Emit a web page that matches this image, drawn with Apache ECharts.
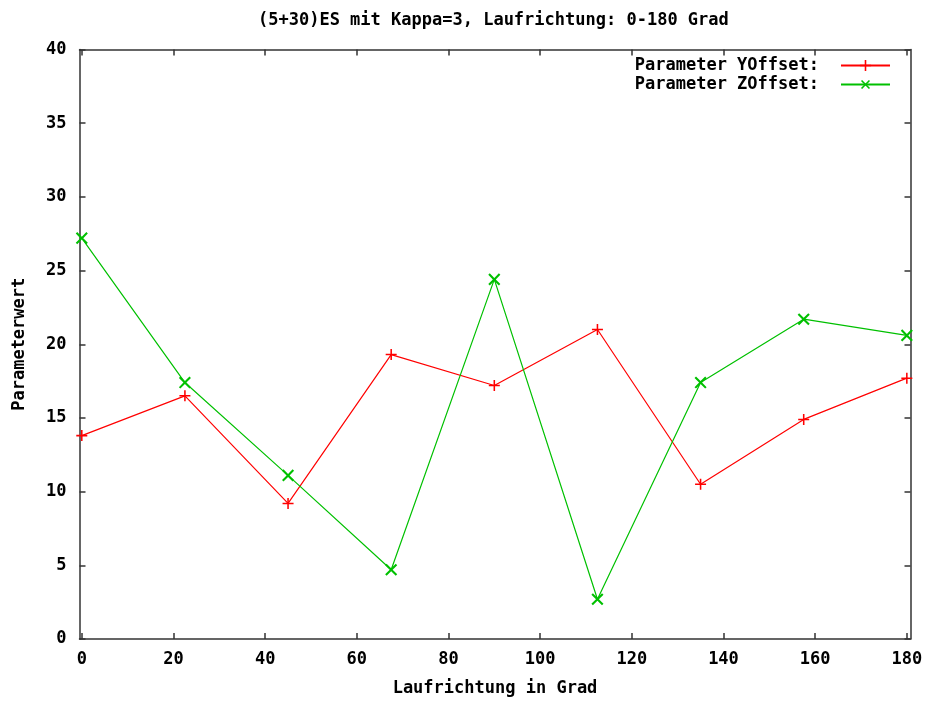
<!DOCTYPE html>
<html>
<head>
<meta charset="utf-8">
<script src="https://cdn.jsdelivr.net/npm/echarts@6/dist/echarts.min.js"></script>
<style>
  html, body { margin: 0; padding: 0; background: #fff; }
  #chart { width: 927px; height: 702px; }
</style>
</head>
<body>
<div id="chart"></div>
<script>
// Laufrichtung (Grad) and measured parameter values
const angles = [0, 22.5, 45, 67.5, 90, 112.5, 135, 157.5, 180];
const yOffset = [13.8, 16.5, 9.2, 19.3, 17.2, 21.0, 10.5, 14.9, 17.7];
const zOffset = [27.2, 17.4, 11.1, 4.7, 24.4, 2.7, 17.4, 21.7, 20.6];
const xTicks = [0, 20, 40, 60, 80, 100, 120, 140, 160, 180];

const titleText = '(5+30)ES mit Kappa=3, Laufrichtung: 0-180 Grad';
const xName = 'Laufrichtung in Grad';
const yName = 'Parameterwert';
const seriesNames = ['Parameter YOffset:', 'Parameter ZOffset:'];

const FONT = 'DejaVu Sans Mono';
const AXIS_COLOR = '#333';
const txt = { fontFamily: FONT, fontWeight: 'bold', fontSize: 17, color: '#000' };

// thin plus glyph; rotated by 45 degrees it becomes a cross
const PLUS = 'path://M4.3,0h1.4v4.3h4.3v1.4h-4.3v4.3h-1.4v-4.3h-4.3v-1.4h4.3z';

const toPairs = (xs, ys) => xs.map((x, i) => [x, ys[i]]);

const chart = echarts.init(document.getElementById('chart'), null, { renderer: 'canvas' });

const xAxisBase = {
  type: 'value',
  min: -0.5,
  max: 180.8,
  splitLine: { show: false },
  axisLine: { show: true, onZero: false, lineStyle: { color: AXIS_COLOR, width: 1.5 } },
  axisTick: { show: true, inside: true, length: 6, customValues: xTicks, lineStyle: { color: AXIS_COLOR, width: 1.5 } }
};
const yAxisBase = {
  type: 'value',
  min: 0,
  max: 40,
  interval: 5,
  splitLine: { show: false },
  axisLine: { show: true, onZero: false, lineStyle: { color: AXIS_COLOR, width: 1.5 } },
  axisTick: { show: true, inside: true, length: 6, lineStyle: { color: AXIS_COLOR, width: 1.5 } }
};

chart.setOption({
  animation: false,
  backgroundColor: '#fff',
  title: {
    text: titleText,
    left: 258,
    top: 12,
    padding: 0,
    textStyle: Object.assign({}, txt)
  },
  legend: {
    orient: 'vertical',
    right: 36,
    top: 56,
    padding: 0,
    align: 'right',
    itemWidth: 49,
    itemHeight: 14,
    itemGap: 0,
    textStyle: Object.assign({}, txt, { lineHeight: 19, padding: [0, 17, 0, 0] }),
    data: seriesNames
  },
  grid: { left: 79.5, right: 16.5, top: 49.5, bottom: 60.5 },
  xAxis: [
    Object.assign({}, xAxisBase, {
      position: 'bottom',
      name: xName,
      nameLocation: 'middle',
      nameGap: 41,
      nameTextStyle: Object.assign({}, txt),
      axisLabel: Object.assign({}, txt, { margin: 12, customValues: xTicks })
    }),
    Object.assign({}, xAxisBase, {
      position: 'top',
      axisLabel: { show: false }
    })
  ],
  yAxis: [
    Object.assign({}, yAxisBase, {
      position: 'left',
      name: yName,
      nameLocation: 'middle',
      nameGap: 51,
      nameTextStyle: Object.assign({}, txt),
      axisLabel: Object.assign({}, txt, { margin: 13 })
    }),
    Object.assign({}, yAxisBase, {
      position: 'right',
      axisLabel: { show: false }
    })
  ],
  series: [
    {
      name: seriesNames[0],
      type: 'line',
      data: toPairs(angles, yOffset),
      symbol: PLUS,
      symbolSize: 11,
      showAllSymbol: true,
      lineStyle: { color: '#ff0000', width: 1.2 },
      itemStyle: { color: '#ff0000' }
    },
    {
      name: seriesNames[1],
      type: 'line',
      data: toPairs(angles, zOffset),
      symbol: PLUS,
      symbolSize: 15,
      symbolRotate: 45,
      showAllSymbol: true,
      lineStyle: { color: '#00c000', width: 1.2 },
      itemStyle: { color: '#00c000' }
    }
  ]
});
</script>
</body>
</html>
